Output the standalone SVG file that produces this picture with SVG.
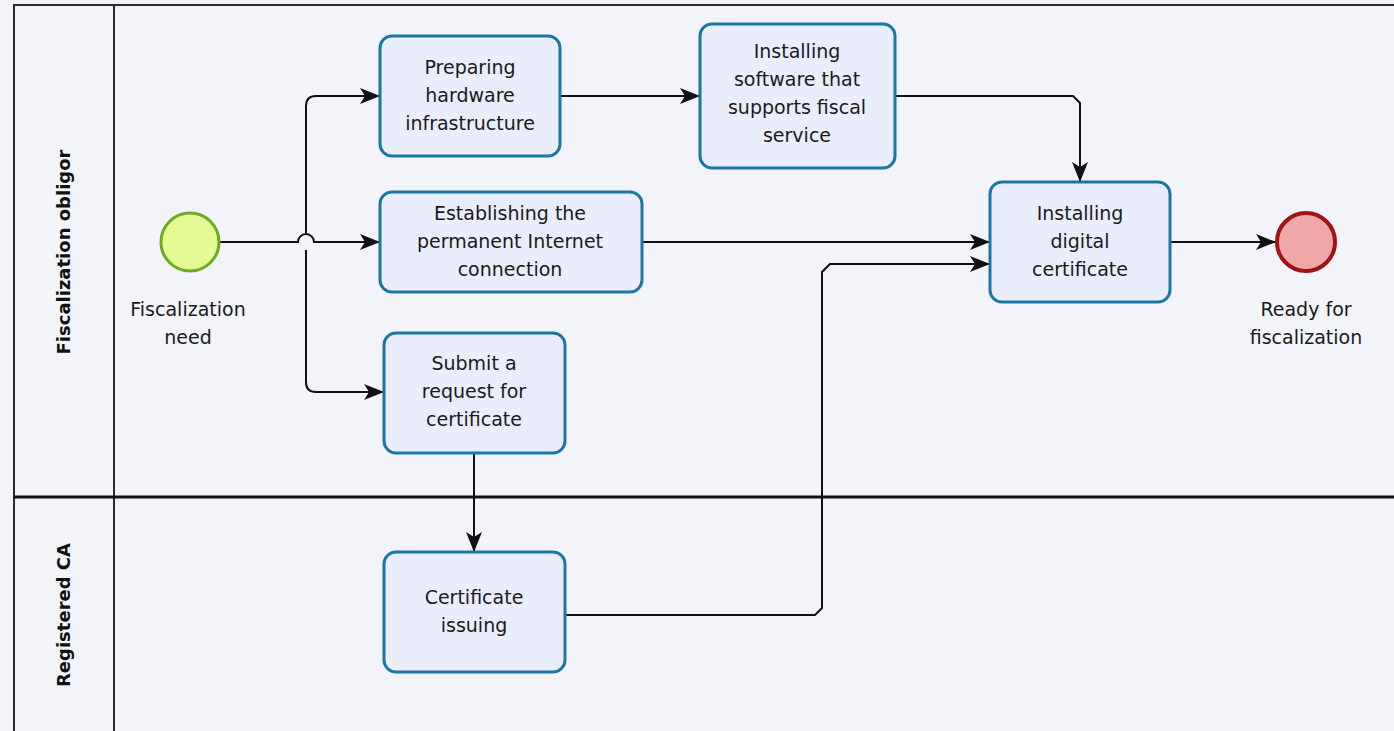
<svg xmlns="http://www.w3.org/2000/svg" width="1394" height="731" viewBox="0 0 1394 731">
<style>
.lane{fill:none;stroke:#2b2b2b;stroke-width:2}
.task rect{fill:#eaedfc;stroke:#1b78a6;stroke-width:3}
.t{font-family:"DejaVu Sans",sans-serif;font-size:19px;fill:#1a1a1a;text-anchor:middle}
.lt{font-family:"DejaVu Sans",sans-serif;font-size:18px;font-weight:bold;fill:#111;text-anchor:middle}
.c{fill:none;stroke:#111;stroke-width:2}
</style>
<defs>
<marker id="ah" viewBox="0 0 20 16" refX="20" refY="8" markerWidth="20" markerHeight="16" markerUnits="userSpaceOnUse" orient="auto">
<path d="M0,0 L20,8 L0,16 L5,8 Z" fill="#111"/>
</marker>
</defs>
<rect x="0" y="0" width="1394" height="731" fill="#f2f4f9"/>
<g id="pool">
<path class="lane" d="M1400,5 H14 V740"/>
<path class="lane" d="M114,5 V740"/>
<path d="M14,497 H1400" stroke="#111" stroke-width="3"/>
<text class="lt" transform="translate(70,252) rotate(-90)">Fiscalization obligor</text>
<text class="lt" transform="translate(70,615) rotate(-90)">Registered CA</text>
</g>
<g id="connectors">
<path class="c" d="M220,242 H298 A8,8 0 0 1 314,242 H380" marker-end="url(#ah)"/>
<path class="c" d="M306,234 V106 Q306,96 316,96 H380" marker-end="url(#ah)"/>
<path class="c" d="M306,250 V382 Q306,392 316,392 H384" marker-end="url(#ah)"/>
<path class="c" d="M560,96 H700" marker-end="url(#ah)"/>
<path class="c" d="M895,96 H1073 L1080,103 V182" marker-end="url(#ah)"/>
<path class="c" d="M642,242 H990" marker-end="url(#ah)"/>
<path class="c" d="M474,453 V552" marker-end="url(#ah)"/>
<path class="c" d="M565,615 H815 L822,608 V272 L830,264 H990" marker-end="url(#ah)"/>
<path class="c" d="M1170,242 H1276" marker-end="url(#ah)"/>
</g>
<g id="start">
<circle cx="190" cy="242" r="29" fill="#e3fa95" stroke="#6aab1f" stroke-width="3"/>
<text class="t" x="188" y="316">Fiscalization</text>
<text class="t" x="188" y="344">need</text>
</g>
<g id="task-hardware" class="task">
<rect x="380" y="36" width="180" height="120" rx="12"/>
<text class="t" x="470" y="74">Preparing</text>
<text class="t" x="470" y="102">hardware</text>
<text class="t" x="470" y="130">infrastructure</text>
</g>
<g id="task-software" class="task">
<rect x="700" y="24" width="195" height="144" rx="12"/>
<text class="t" x="797" y="58">Installing</text>
<text class="t" x="797" y="86">software that</text>
<text class="t" x="797" y="114">supports fiscal</text>
<text class="t" x="797" y="142">service</text>
</g>
<g id="task-internet" class="task">
<rect x="380" y="192" width="262" height="100" rx="12"/>
<text class="t" x="510" y="220">Establishing the</text>
<text class="t" x="510" y="248">permanent Internet</text>
<text class="t" x="510" y="276">connection</text>
</g>
<g id="task-request" class="task">
<rect x="384" y="333" width="181" height="120" rx="12"/>
<text class="t" x="474" y="370">Submit a</text>
<text class="t" x="474" y="398">request for</text>
<text class="t" x="474" y="426">certificate</text>
</g>
<g id="task-install-cert" class="task">
<rect x="990" y="182" width="180" height="120" rx="12"/>
<text class="t" x="1080" y="220">Installing</text>
<text class="t" x="1080" y="248">digital</text>
<text class="t" x="1080" y="276">certificate</text>
</g>
<g id="task-issuing" class="task">
<rect x="384" y="552" width="181" height="120" rx="12"/>
<text class="t" x="474" y="604">Certificate</text>
<text class="t" x="474" y="632">issuing</text>
</g>
<g id="end">
<circle cx="1306" cy="242" r="29" fill="#f0a7a8" stroke="#a01414" stroke-width="4"/>
<text class="t" x="1306" y="316">Ready for</text>
<text class="t" x="1306" y="344">fiscalization</text>
</g>
</svg>
